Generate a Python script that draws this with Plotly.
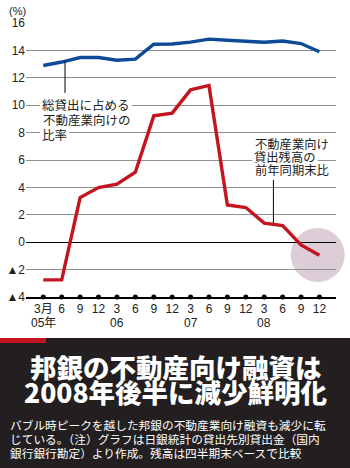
import plotly.graph_objects as go

# Quarter-end periods, March 2005 to December 2008
quarters = ["3月", "6", "9", "12", "3", "6", "9", "12",
            "3", "6", "9", "12", "3", "6", "9", "12"]
year_labels = ["05年", "06", "07", "08"]
year_positions = [0, 4, 8, 12]

# Share of real-estate loans in total lending (%)
share_pct = [12.9, 13.15, 13.48, 13.48, 13.28, 13.36, 14.45, 14.47,
             14.6, 14.82, 14.74, 14.64, 14.6, 14.68, 14.5, 13.9]

# Real-estate loan balance, change vs. same quarter a year earlier (%)
yoy_pct = [-2.75, -2.75, 3.26, 3.99, 4.24, 5.11, 9.22, 9.42,
           11.12, 11.44, 2.72, 2.53, 1.39, 1.21, -0.2, -0.95]

y_ticks = [-4, -2, 0, 2, 4, 6, 8, 10, 12, 14, 16]
y_ticktext = ["▲4", "▲2", "0", "2", "4", "6", "8", "10", "12", "14", "16"]

W, H = 350, 468
ML, MR, MT, MB = 26, 14, 23, 171
PW, PH = W - ML - MR, H - MT - MB

BLUE = "#0d4a97"
RED = "#c3151d"
DARK = "#231f20"
SANS = "Liberation Sans, Noto Sans CJK JP, sans-serif"
JP = "Noto Sans CJK JP, sans-serif"

X0, X1 = -0.94, 15.9
Y0, Y1 = -4, 16


def px(p):
    """horizontal pixel -> paper fraction"""
    return (p - ML) / PW


def py(p):
    """vertical pixel -> paper fraction"""
    return (MT + PH - p) / PH


xs = list(range(len(quarters)))

fig = go.Figure()

fig.add_trace(go.Scatter(x=xs, y=share_pct, mode="lines",
                         line=dict(color=BLUE, width=3.4), hoverinfo="skip"))
fig.add_trace(go.Scatter(x=xs, y=yoy_pct, mode="lines",
                         line=dict(color=RED, width=3.4), hoverinfo="skip"))
# tick dots on the baseline
fig.add_trace(go.Scatter(x=xs, y=[Y0] * len(xs), mode="markers",
                         marker=dict(color="black", size=5), cliponaxis=False,
                         hoverinfo="skip"))

shapes = [
    # highlight circle around the latest quarters
    dict(type="circle", xref="paper", yref="paper",
         x0=px(290.7), x1=px(344.7), y0=py(282), y1=py(228),
         fillcolor="#dccdd7", line=dict(width=0), layer="between"),
    # leader lines
    dict(type="line", xref="x", yref="y", x0=1.18, x1=1.18, y0=13.2, y1=10.9,
         line=dict(color="black", width=1)),
    dict(type="line", xref="x", yref="y", x0=12.5, x1=12.5, y0=1.4, y1=4.55,
         line=dict(color="black", width=1)),
    # dark caption panel
    dict(type="rect", xref="paper", yref="paper",
         x0=px(0), x1=px(W), y0=py(H), y1=py(338),
         fillcolor=DARK, line=dict(width=0), layer="above"),
    dict(type="rect", xref="paper", yref="paper",
         x0=px(0), x1=px(46), y0=py(343), y1=py(338),
         fillcolor=RED, line=dict(width=0), layer="above"),
]

annotations = []


def label(text, x, y, size, color="#222", xanchor="left", bg=None,
          family=JP, pad=1):
    annotations.append(dict(
        text=text, xref="paper", yref="paper", x=px(x), y=py(y),
        xanchor=xanchor, yanchor="middle", showarrow=False,
        font=dict(size=size, color=color, family=family),
        bgcolor=bg, borderpad=pad, borderwidth=0))


label("(%)", 8, 11, 11, family=SANS)

# lines that cross a gridline get a white backing; the others are drawn last
label("総貸出に占める", 40, 105, 12.5, bg="white", pad=2)
label("比率", 40, 134, 12.5, bg="white", pad=2)
label("不動産業向けの", 42, 119, 12.5)

label("貸出残高の", 252, 157, 12.3, bg="white", pad=2)
label("不動産業向け", 254, 144, 12.3)
label("前年同期末比", 254, 170.5, 12.3)

for yl, xi in zip(year_labels, year_positions):
    annotations.append(dict(
        text=yl, xref="x", yref="paper", x=xi, y=py(323),
        xanchor="center", yanchor="middle", showarrow=False,
        font=dict(size=12, color="#222", family=SANS)))

TITLE_FONT = "Noto Sans CJK JP Black, Noto Sans CJK JP, sans-serif"
label("邦銀の不動産向け融資は", 176, 366, 26.5, color="white",
      xanchor="center", family=TITLE_FONT, pad=0)
label("2008年後半に減少鮮明化", 176, 391, 26.5, color="white",
      xanchor="center", family=TITLE_FONT, pad=0)

body = ["バブル時ピークを越した邦銀の不動産業向け融資も減少に転",
        "じている。（注）グラフは日銀統計の貸出先別貸出金（国内",
        "銀行銀行勘定）より作成。残高は四半期末ベースで比較"]
for txt, yy in zip(body, [425, 438.7, 452.3]):
    label(txt, 10, yy, 11.7, color="white", pad=0)

fig.update_layout(
    width=W, height=H,
    margin=dict(l=ML, r=MR, t=MT, b=MB, autoexpand=False),
    paper_bgcolor="white", plot_bgcolor="white",
    showlegend=False,
    shapes=shapes, annotations=annotations,
    xaxis=dict(range=[X0, X1], tickvals=xs, ticktext=quarters,
               showgrid=False, zeroline=False, showline=True,
               linecolor="black", linewidth=1.5, ticks="",
               tickfont=dict(size=12, color="#222", family=SANS),
               automargin=False, fixedrange=True),
    yaxis=dict(range=[Y0, Y1], tickvals=y_ticks, ticktext=y_ticktext,
               showgrid=True, gridcolor="#8f8f8f", gridwidth=1,
               zeroline=True, zerolinecolor="black", zerolinewidth=1.2,
               ticks="", tickfont=dict(size=12, color="#222", family=SANS),
               automargin=False, fixedrange=True),
)

fig.write_html("out.html", config={"displayModeBar": False})
